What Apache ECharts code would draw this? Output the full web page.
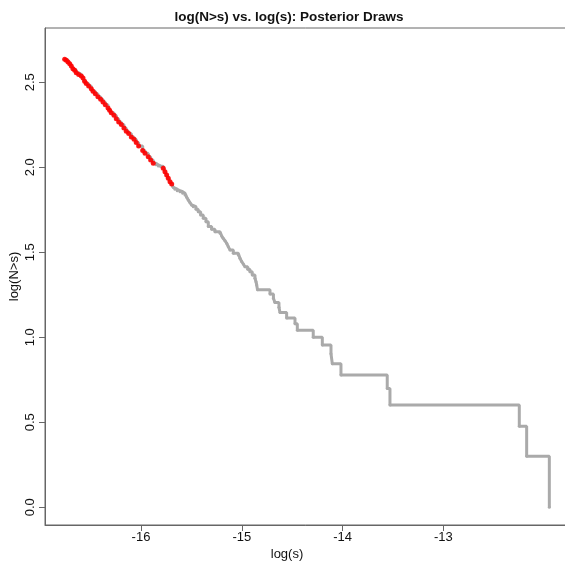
<!DOCTYPE html>
<html>
<head>
<meta charset="utf-8">
<script src="https://cdn.jsdelivr.net/npm/echarts@6/dist/echarts.min.js"></script>
<style>html,body{margin:0;padding:0;background:#fff}#c{width:565px;height:564px}</style>
</head>
<body>
<div id="c"></div>
<script>
// log(s) values (x) and log(N>s) values (y)
const logS = [
 -16.757,-16.741,-16.724,-16.707,-16.691,-16.675,-16.658,-16.642,-16.618,-16.592,
 -16.575,-16.559,-16.543,-16.519,-16.493,-16.476,-16.453,-16.427,-16.400,-16.377,
 -16.354,-16.327,-16.311,-16.295,-16.268,-16.245,-16.221,-16.195,-16.169,-16.146,
 -16.122,-16.096,-16.069,-16.047,-16.023,-15.983,-15.960,-15.928,-15.904,-15.878,
 -15.851,-15.828,-15.805,-15.779,-15.762,-15.745,-15.729,-15.712,-15.695,-15.680,
 -15.663,-15.640,-15.613,-15.586,-15.563,-15.546,-15.531,-15.514,-15.497,-15.481,
 -15.454,-15.432,-15.408,-15.382,-15.355,-15.332,-15.299,-15.266,-15.216,-15.199,
 -15.184,-15.167,-15.150,-15.134,-15.117,-15.084,-15.035,-15.018,-15.001,-14.985,
 -14.968,-14.941,-14.919,-14.896,-14.869,-14.859,-14.852,-14.844,-14.720,-14.686,
 -14.671,-14.631,-14.621,-14.555,-14.472,-14.449,-14.291,-14.201,-14.115,-14.102,
 -14.016,-13.557,-13.530,-12.247,-12.174,-11.949
];
const logN = [
 2.635,2.629,2.619,2.609,2.596,2.580,2.571,2.556,2.545,2.537,
 2.525,2.506,2.492,2.478,2.462,2.447,2.433,2.414,2.400,2.384,
 2.368,2.349,2.335,2.321,2.306,2.286,2.266,2.251,2.231,2.212,
 2.198,2.178,2.165,2.145,2.125,2.098,2.082,2.062,2.043,2.024,
 2.014,2.008,2.004,1.994,1.974,1.955,1.935,1.915,1.902,1.882,
 1.871,1.862,1.856,1.847,1.837,1.824,1.808,1.792,1.778,1.768,
 1.753,1.739,1.719,1.700,1.680,1.651,1.635,1.621,1.612,1.596,
 1.582,1.568,1.553,1.533,1.514,1.494,1.484,1.465,1.445,1.431,
 1.415,1.400,1.386,1.366,1.347,1.327,1.308,1.279,1.255,1.230,
 1.204,1.176,1.146,1.114,1.079,1.041,1.000,0.954,0.903,0.845,
 0.778,0.699,0.602,0.477,0.301,0.000
];
// index spans (inclusive) of the posterior draws highlighted in red
const redSpans = [[0, 39], [43, 48]];
const xTicks = [-16, -15, -14, -13];
const yTicks = [0, 0.5, 1.0, 1.5, 2.0, 2.5];

const stepData = logS.map((x, i) => [x, logN[i]]);
const redData = [];
redSpans.forEach(([a, b]) => { for (let i = a; i <= b; i++) redData.push([logS[i], logN[i]]); });

const chart = echarts.init(document.getElementById('c'), null, {renderer: 'canvas'});
const font = 'Liberation Sans, Arial, Helvetica, sans-serif';
chart.setOption({
  animation: false,
  backgroundColor: '#ffffff',
  title: {
    text: 'log(N>s) vs. log(s): Posterior Draws',
    left: 284, top: 5, textAlign: 'center',
    textStyle: {fontFamily: font, fontSize: 13.5, fontWeight: 'bold', color: '#111'}
  },
  grid: {left: 45, right: -5, top: 28, bottom: 39, containLabel: false, outerBoundsMode: 'none',
    show: true, borderColor: '#666', borderWidth: 1, backgroundColor: 'transparent'},
  xAxis: {
    type: 'value', min: -16.952, max: -11.744,
    name: 'log(s)', nameLocation: 'middle', nameGap: 23, nameMoveOverlap: false,
    nameTextStyle: {fontFamily: font, fontSize: 13, color: '#111', padding: [0, 41, 0, 0]},
    axisLine: {show: true, onZero: false, lineStyle: {color: '#666', width: 1}},
    axisTick: {show: true, length: 6, customValues: xTicks, lineStyle: {color: '#666'}},
    axisLabel: {show: true, customValues: xTicks, margin: 6, fontFamily: font, fontSize: 13, color: '#111',
      formatter: v => String(v)},
    splitLine: {show: false}
  },
  yAxis: {
    type: 'value', min: -0.104, max: 2.819,
    name: 'log(N>s)', nameLocation: 'middle', nameGap: 24, nameRotate: 90, nameMoveOverlap: false,
    nameTextStyle: {fontFamily: font, fontSize: 13, color: '#111'},
    axisLine: {show: true, onZero: false, lineStyle: {color: '#666', width: 1}},
    axisTick: {show: true, length: 6, customValues: yTicks, lineStyle: {color: '#666'}},
    axisLabel: {show: true, customValues: yTicks, rotate: 90, margin: 8, fontFamily: font, fontSize: 13, color: '#111',
      formatter: v => v.toFixed(1)},
    splitLine: {show: false}
  },
  series: [
    {
      type: 'line', data: stepData, step: 'end',
      showSymbol: true, symbol: 'circle', symbolSize: 3,
      itemStyle: {color: '#aaaaaa'},
      lineStyle: {color: '#aaaaaa', width: 3},
      z: 2
    },
    {
      type: 'scatter', data: redData, symbol: 'circle', symbolSize: 5,
      itemStyle: {color: '#ff0000', opacity: 0.9},
      z: 3
    }
  ]
});
</script>
</body>
</html>
